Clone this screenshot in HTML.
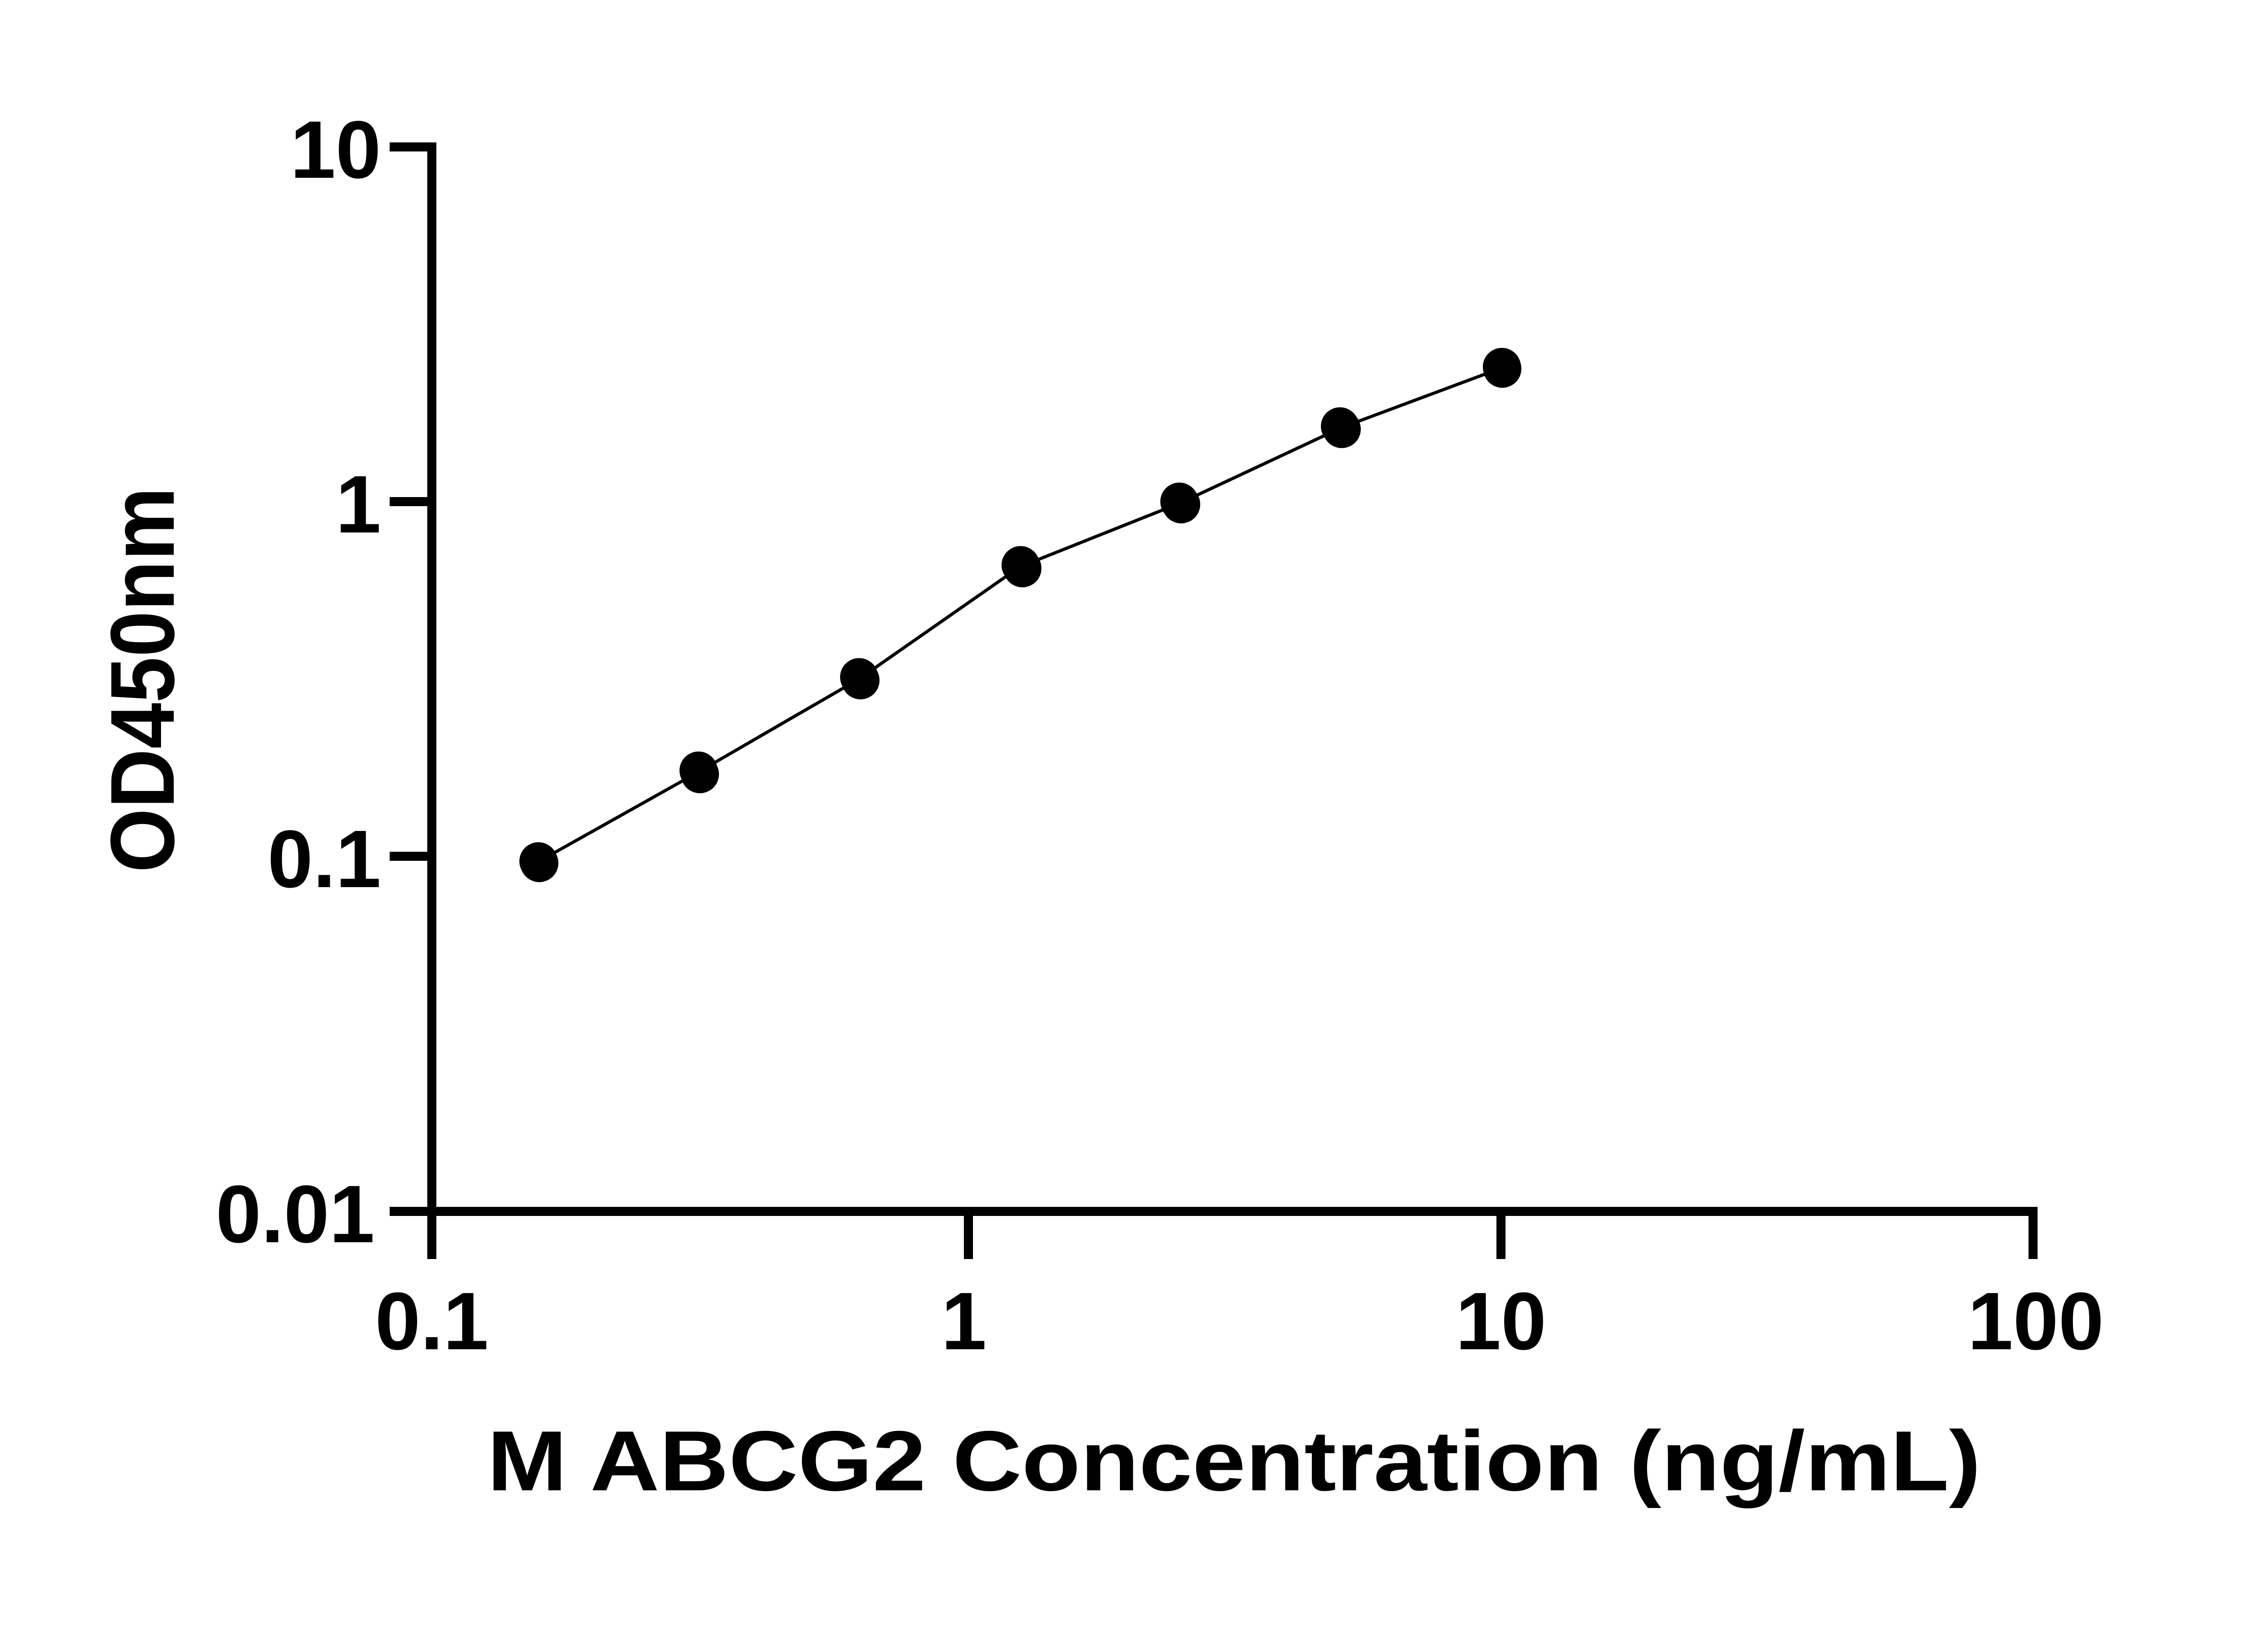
<!DOCTYPE html>
<html><head><style>html,body{margin:0;padding:0;background:#fff}</style></head>
<body>
<svg width="5130" height="3600" xmlns="http://www.w3.org/2000/svg" font-family="Liberation Sans, Arial, sans-serif" font-weight="bold">
<rect width="5130" height="3600" fill="#fff"/>
<g stroke="#000" stroke-width="20" fill="none">
<line x1="952" y1="314" x2="952" y2="2776"/>
<line x1="859" y1="2671" x2="4492" y2="2671"/>
<line x1="859" y1="324" x2="962" y2="324"/>
<line x1="859" y1="1106" x2="952" y2="1106"/>
<line x1="859" y1="1888" x2="952" y2="1888"/>
<line x1="2135" y1="2671" x2="2135" y2="2776"/>
<line x1="3309" y1="2671" x2="3309" y2="2776"/>
<line x1="4482" y1="2671" x2="4482" y2="2776"/>
</g>
<g font-size="180" text-anchor="end">
<text x="840" y="392">10</text>
<text x="840" y="1174">1</text>
<text x="840" y="1956">0.1</text>
<text x="826" y="2739">0.01</text>
</g>
<g font-size="180" text-anchor="middle">
<text x="952" y="2975">0.1</text>
<text x="2125" y="2975">1</text>
<text x="3309" y="2975">10</text>
<text x="4488" y="2975">100</text>
</g>
<text x="1074" y="3286" font-size="188" textLength="3293" lengthAdjust="spacingAndGlyphs">M ABCG2 Concentration (ng/mL)</text>
<text transform="translate(383,1499) rotate(-90)" font-size="200" text-anchor="middle" textLength="850" lengthAdjust="spacingAndGlyphs">OD450nm</text>
<polyline fill="none" stroke="#000" stroke-width="7" points="1185,1901 1540,1702 1894,1497 2248,1250 2602,1109 2957,943 3311,811"/>
<g fill="#000">
<circle cx="1187" cy="1899" r="42"/><circle cx="1189" cy="1903" r="42"/>
<circle cx="1540" cy="1699" r="42"/><circle cx="1543" cy="1707" r="42"/>
<circle cx="1894" cy="1493" r="42"/><circle cx="1897" cy="1500" r="42"/>
<circle cx="2250" cy="1246" r="42"/><circle cx="2254" cy="1253" r="42"/>
<circle cx="2600" cy="1106" r="42"/><circle cx="2604" cy="1112" r="42"/>
<circle cx="2954" cy="940" r="42"/><circle cx="2958" cy="946" r="42"/>
<circle cx="3311" cy="809" r="42"/><circle cx="3312" cy="813" r="42"/>
</g>
</svg>
</body></html>
